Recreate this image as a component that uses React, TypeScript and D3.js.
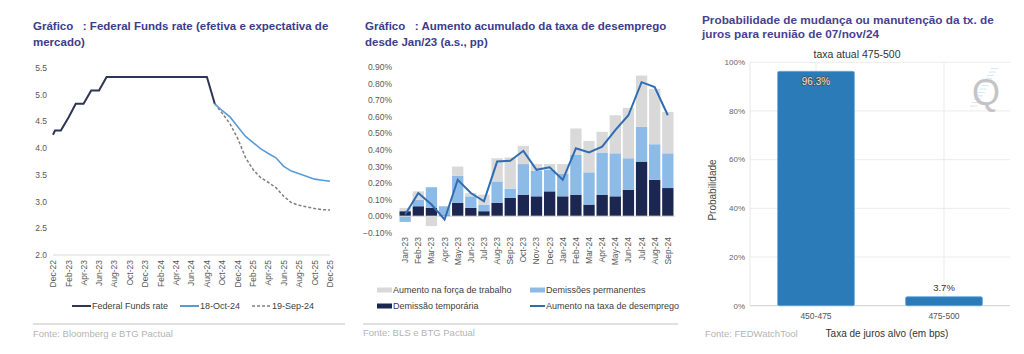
import React, { useEffect, useRef } from 'react';
import * as d3 from 'd3';

// --- Gráfico 1: Federal Funds rate ---
const ffDates = ['2022-12-01', '2022-12-09', '2023-01-01', '2023-02-01', '2023-03-01', '2023-04-01', '2023-05-01', '2023-06-01',
  '2023-07-01', '2023-08-01', '2023-09-01', '2023-10-01', '2023-11-01', '2023-12-01', '2024-01-01', '2024-02-01',
  '2024-03-01', '2024-04-01', '2024-05-01', '2024-06-01', '2024-07-01', '2024-08-01', '2024-09-01'];
const ffRate = [4.25, 4.33, 4.33, 4.58, 4.83, 4.83, 5.08, 5.08,
  5.33, 5.33, 5.33, 5.33, 5.33, 5.33, 5.33, 5.33, 5.33, 5.33, 5.33, 5.33, 5.33, 5.33, 4.83];
const projDates = ['2024-09-01', '2024-10-01', '2024-11-01', '2024-12-01', '2025-01-01', '2025-02-01', '2025-03-01', '2025-04-01',
  '2025-05-01', '2025-06-01', '2025-07-01', '2025-08-01', '2025-09-01', '2025-10-01', '2025-11-01', '2025-12-01'];
const oct18 = [4.83, 4.70, 4.58, 4.40, 4.22, 4.10, 3.99, 3.90, 3.82, 3.66, 3.57, 3.52, 3.47, 3.42, 3.40, 3.38];
const sep19 = [4.83, 4.65, 4.45, 4.18, 3.82, 3.59, 3.45, 3.36, 3.26, 3.10, 2.98, 2.93, 2.90, 2.87, 2.85, 2.84];
const ffTickLabels = ['Dec-22', 'Feb-23', 'Apr-23', 'Jun-23', 'Aug-23', 'Oct-23', 'Dec-23', 'Feb-24', 'Apr-24', 'Jun-24',
  'Aug-24', 'Oct-24', 'Dec-24', 'Feb-25', 'Apr-25', 'Jun-25', 'Aug-25', 'Oct-25', 'Dec-25'];
const ffYTicks = [2.0, 2.5, 3.0, 3.5, 4.0, 4.5, 5.0, 5.5];

// --- Gráfico 2: desemprego ---
const months = ['Jan-23', 'Feb-23', 'Mar-23', 'Apr-23', 'May-23', 'Jun-23', 'Jul-23', 'Aug-23', 'Sep-23', 'Oct-23', 'Nov-23',
  'Dec-23', 'Jan-24', 'Feb-24', 'Mar-24', 'Apr-24', 'May-24', 'Jun-24', 'Jul-24', 'Aug-24', 'Sep-24'];
const temporaria = [0.03, 0.06, 0.05, 0.005, 0.08, 0.05, 0.03, 0.08, 0.11, 0.13, 0.12, 0.15, 0.12, 0.13, 0.07, 0.13, 0.12, 0.16, 0.33, 0.22, 0.17];
const permanentes = [-0.035, 0.04, 0.125, 0.055, 0.165, 0.07, 0.04, 0.13, 0.055, 0.185, 0.155, 0.13, 0.135, 0.24, 0.195, 0.255, 0.26, 0.19, 0.21, 0.215, 0.21];
const forcaTrabalho = [0.02, 0.05, -0.06, 0, 0.055, 0.02, 0.06, 0.14, 0.19, 0.11, 0.04, 0.035, 0.06, 0.16, 0.19, 0.125, 0.23, 0.305, 0.31, 0.335, 0.25];
const taxaDesemprego = [0.01, 0.14, 0.07, -0.02, 0.22, 0.14, 0.09, 0.33, 0.335, 0.395, 0.28, 0.295, 0.22, 0.41, 0.385, 0.42, 0.52, 0.61, 0.81, 0.78, 0.61];
const unempYTicks = [-0.1, 0, 0.1, 0.2, 0.3, 0.4, 0.5, 0.6, 0.7, 0.8, 0.9];

// --- Gráfico 3: FedWatch ---
const targetRanges = ['450-475', '475-500'];
const probabilities = [96.3, 3.7];
const probYTicks = [0, 20, 40, 60, 80, 100];

const FONT = "'Liberation Sans', Arial, sans-serif";
const TITLE = '#3c3d8a';

const App = () => {
  const svgRef = useRef<SVGSVGElement>(null);

  useEffect(() => {
    const svg = d3.select(svgRef.current);
    svg.selectAll('*').remove();
    svg.append('rect').attr('width', 1024).attr('height', 354).attr('fill', '#fff');

    const title = (x: number, y: number, lines: string[], size: number, color: string) => {
      lines.forEach((t, i) => {
        svg.append('text').attr('x', x).attr('y', y + i * 16).attr('font-family', FONT)
          .attr('font-size', size).attr('font-weight', 'bold').attr('fill', color)
          .style('white-space', 'pre').text(t);
      });
    };
    const fonte = (x: number, y: number, t: string) => {
      svg.append('text').attr('x', x).attr('y', y).attr('font-family', FONT).attr('font-size', 9.5)
        .attr('fill', '#b4b4b4').text(t);
    };

    // ================= Chart 1 =================
    const parseIso = d3.timeParse('%Y-%m-%d');
    const parseTick = d3.timeParse('%b-%y');
    const x1 = d3.scaleTime().domain([parseIso('2022-12-01')!, parseIso('2025-12-01')!]).range([53, 330]);
    const y1 = d3.scaleLinear().domain([2, 5.5]).range([255, 68]);

    title(33, 30, ['Gráfico   : Federal Funds rate (efetiva e expectativa de', 'mercado)'], 11.5, TITLE);

    const g1 = svg.append('g').attr('font-family', FONT);
    g1.selectAll('.ytick').data(ffYTicks).enter().append('text')
      .attr('x', 47).attr('y', (d) => y1(d)).attr('dy', '0.35em').attr('text-anchor', 'end')
      .attr('font-size', 8.5).attr('fill', '#595959').text((d) => d3.format('.1f')(d));
    g1.append('line').attr('x1', 53).attr('x2', 330).attr('y1', 255).attr('y2', 255)
      .attr('stroke', '#d9d9d9').attr('stroke-width', 1);
    g1.selectAll('.xtick').data(ffTickLabels).enter().append('text')
      .attr('transform', (d) => `translate(${x1(parseTick(d)!)},260) rotate(-90)`)
      .attr('dy', '0.35em').attr('text-anchor', 'end').attr('font-size', 8.5).attr('fill', '#595959').text((d) => d);

    const line1 = d3.line<[Date, number]>().x((d) => x1(d[0])).y((d) => y1(d[1]));
    const ffData: [Date, number][] = ffDates.map((d, i) => [parseIso(d)!, ffRate[i]]);
    const octData: [Date, number][] = projDates.map((d, i) => [parseIso(d)!, oct18[i]]);
    const sepData: [Date, number][] = projDates.map((d, i) => [parseIso(d)!, sep19[i]]);
    g1.append('path').datum(sepData).attr('d', line1).attr('fill', 'none')
      .attr('stroke', '#7f7f7f').attr('stroke-width', 1.5).attr('stroke-dasharray', '3,2');
    g1.append('path').datum(octData).attr('d', line1).attr('fill', 'none')
      .attr('stroke', '#5b9bd5').attr('stroke-width', 1.6);
    g1.append('path').datum(ffData).attr('d', line1).attr('fill', 'none')
      .attr('stroke', '#2f3556').attr('stroke-width', 2);

    const leg1 = [
      { x: 72, label: 'Federal Funds rate', color: '#2f3556', dash: null, w: 2 },
      { x: 180, label: '18-Oct-24', color: '#5b9bd5', dash: null, w: 2 },
      { x: 252, label: '19-Sep-24', color: '#7f7f7f', dash: '3,2', w: 1.5 },
    ];
    leg1.forEach((l) => {
      g1.append('line').attr('x1', l.x).attr('x2', l.x + 19).attr('y1', 306).attr('y2', 306)
        .attr('stroke', l.color).attr('stroke-width', l.w).attr('stroke-dasharray', l.dash);
      g1.append('text').attr('x', l.x + 20).attr('y', 306).attr('dy', '0.35em')
        .attr('font-size', 9).attr('fill', '#404040').text(l.label);
    });
    g1.append('line').attr('x1', 33).attr('x2', 345).attr('y1', 324).attr('y2', 324)
      .attr('stroke', '#d6d6d6').attr('stroke-width', 1.5);
    fonte(33, 337, 'Fonte: Bloomberg e BTG Pactual');

    // ================= Chart 2 =================
    title(365, 30, ['Gráfico   : Aumento acumulado da taxa de desemprego', 'desde Jan/23 (a.s., pp)'], 11.5, TITLE);
    const x2 = d3.scaleBand().domain(months).range([399, 674]).paddingInner(0.14).paddingOuter(0.04);
    const y2 = d3.scaleLinear().domain([-0.1, 0.9]).range([232.7, 67.3]);
    const g2 = svg.append('g').attr('font-family', FONT);

    g2.selectAll('.ytick').data(unempYTicks).enter().append('text')
      .attr('x', 392).attr('y', (d) => y2(d)).attr('dy', '0.35em').attr('text-anchor', 'end')
      .attr('font-size', 8.5).attr('fill', '#595959').text((d) => d3.format('.2%')(d / 100));

    const rows = months.map((m, i) => ({ month: m, temp: temporaria[i], perm: permanentes[i], forca: forcaTrabalho[i] }));
    const keys = ['temp', 'perm', 'forca'];
    const colors: Record<string, string> = { temp: '#1b2651', perm: '#8dbbe8', forca: '#d9d9d9' };
    const series = d3.stack<any>().keys(keys).offset(d3.stackOffsetDiverging)(rows);
    g2.selectAll('.layer').data(series).enter().append('g').attr('fill', (s) => colors[s.key])
      .selectAll('rect').data((s) => s).enter().append('rect')
      .attr('x', (d) => x2(d.data.month)!).attr('width', x2.bandwidth())
      .attr('y', (d) => y2(Math.max(d[0], d[1]))).attr('height', (d) => Math.abs(y2(d[0]) - y2(d[1])));

    g2.append('line').attr('x1', 399).attr('x2', 675).attr('y1', y2(0)).attr('y2', y2(0))
      .attr('stroke', '#d9d9d9').attr('stroke-width', 1);

    const line2 = d3.line<number>().x((_, i) => x2(months[i])! + x2.bandwidth() / 2).y((d) => y2(d));
    g2.append('path').datum(taxaDesemprego).attr('d', line2).attr('fill', 'none')
      .attr('stroke', '#2f6db3').attr('stroke-width', 2);

    g2.selectAll('.xtick').data(months).enter().append('text')
      .attr('transform', (d) => `translate(${x2(d)! + x2.bandwidth() / 2},237) rotate(-90)`)
      .attr('dy', '0.35em').attr('text-anchor', 'end').attr('font-size', 8.5).attr('fill', '#595959').text((d) => d);

    const leg2 = [
      { x: 377, y: 290, label: 'Aumento na força de trabalho', color: '#d9d9d9', type: 'box' },
      { x: 530, y: 290, label: 'Demissões permanentes', color: '#8dbbe8', type: 'box' },
      { x: 377, y: 306, label: 'Demissão temporária', color: '#1b2651', type: 'box' },
      { x: 530, y: 306, label: 'Aumento na taxa de desemprego', color: '#2f6db3', type: 'line' },
    ];
    leg2.forEach((l) => {
      if (l.type === 'box') {
        g2.append('rect').attr('x', l.x).attr('y', l.y - 2.5).attr('width', 15).attr('height', 5).attr('fill', l.color);
      } else {
        g2.append('line').attr('x1', l.x).attr('x2', l.x + 15).attr('y1', l.y).attr('y2', l.y)
          .attr('stroke', l.color).attr('stroke-width', 2);
      }
      g2.append('text').attr('x', l.x + 16).attr('y', l.y).attr('dy', '0.35em')
        .attr('font-size', 9).attr('fill', '#404040').text(l.label);
    });
    g2.append('line').attr('x1', 363).attr('x2', 678).attr('y1', 324).attr('y2', 324)
      .attr('stroke', '#d6d6d6').attr('stroke-width', 1.5);
    fonte(363, 336, 'Fonte: BLS e BTG Pactual');

    // ================= Chart 3 =================
    const g3 = svg.append('g').attr('font-family', FONT);
    g3.append('text').attr('x', 702).attr('y', 24).attr('font-size', 11.8).attr('font-weight', 'bold')
      .attr('fill', '#4a3f91').text('Probabilidade de mudança ou manutenção da tx. de');
    g3.append('text').attr('x', 702).attr('y', 38).attr('font-size', 11.8).attr('font-weight', 'bold')
      .attr('fill', '#4a3f91').text('juros para reunião de 07/nov/24');
    g3.append('text').attr('x', 857).attr('y', 54).attr('dy', '0.35em').attr('text-anchor', 'middle')
      .attr('font-size', 10.5).attr('fill', '#333').text('taxa atual 475-500');

    const x3 = d3.scaleBand().domain(targetRanges).range([752, 1008]).paddingInner(0.4).paddingOuter(0.2);
    const y3 = d3.scaleLinear().domain([0, 100]).range([305.7, 62.3]);

    g3.selectAll('.grid').data(probYTicks).enter().append('line')
      .attr('x1', 750).attr('x2', 1010).attr('y1', (d) => y3(d)).attr('y2', (d) => y3(d))
      .attr('stroke', (d) => (d === 0 ? '#cfcfcf' : '#ebebeb')).attr('stroke-width', 1);
    g3.append('line').attr('x1', 750).attr('x2', 750).attr('y1', y3(100)).attr('y2', y3(0))
      .attr('stroke', '#e6e6e6');
    g3.selectAll('.vgrid').data(targetRanges).enter().append('line')
      .attr('x1', (d) => x3(d)! + x3.bandwidth() / 2).attr('x2', (d) => x3(d)! + x3.bandwidth() / 2)
      .attr('y1', y3(100)).attr('y2', y3(0)).attr('stroke', '#ebebeb');
    g3.selectAll('.ytick').data(probYTicks).enter().append('text')
      .attr('x', 745).attr('y', (d) => y3(d)).attr('dy', '0.35em').attr('text-anchor', 'end')
      .attr('font-size', 8).attr('fill', '#666').text((d) => `${d}%`);

    // watermark
    const wm = g3.append('g');
    d3.range(12).forEach((i) => {
      const yy = 106 - i * 3.4;
      const xx = 970 + i * 1.9;
      wm.append('line').attr('x1', xx).attr('x2', xx + 7).attr('y1', yy).attr('y2', yy)
        .attr('stroke', '#cfe2f3').attr('stroke-width', 0.9);
    });
    wm.append('text').attr('x', 986).attr('y', 105).attr('text-anchor', 'middle').attr('font-size', 36)
      .attr('fill', '#c4c4c4').text('Q');

    g3.selectAll('.bar').data(targetRanges).enter().append('rect')
      .attr('x', (d) => x3(d)!).attr('width', x3.bandwidth())
      .attr('y', (_, i) => y3(probabilities[i])).attr('height', (_, i) => y3(0) - y3(probabilities[i]))
      .attr('rx', 1.5)
      .attr('fill', '#2b7bb9').attr('stroke', '#6aa8da').attr('stroke-width', 0.8);

    g3.append('text').attr('x', x3(targetRanges[0])! + x3.bandwidth() / 2).attr('y', 81).attr('dy', '0.35em')
      .attr('text-anchor', 'middle').attr('font-size', 10).attr('fill', '#e6e6e6')
      .attr('stroke', '#4d4d4d').attr('stroke-width', 1.4).style('paint-order', 'stroke')
      .text(`${probabilities[0]}%`);
    g3.append('text').attr('x', x3(targetRanges[1])! + x3.bandwidth() / 2).attr('y', 288).attr('dy', '0.35em')
      .attr('text-anchor', 'middle').attr('font-size', 9.5).attr('fill', '#333').text(`${probabilities[1]}%`);

    g3.selectAll('.xtick').data(targetRanges).enter().append('text')
      .attr('x', (d) => x3(d)! + x3.bandwidth() / 2).attr('y', 316).attr('dy', '0.35em')
      .attr('text-anchor', 'middle').attr('font-size', 8.5).attr('fill', '#555').text((d) => d);

    g3.append('text').attr('transform', 'translate(712,190) rotate(-90)').attr('dy', '0.35em')
      .attr('text-anchor', 'middle').attr('font-size', 10).attr('fill', '#444').text('Probabilidade');
    g3.append('text').attr('x', 887).attr('y', 333).attr('dy', '0.35em').attr('text-anchor', 'middle')
      .attr('font-size', 10).attr('fill', '#333').text('Taxa de juros alvo (em bps)');
    g3.append('text').attr('x', 705).attr('y', 334).attr('dy', '0.35em')
      .attr('font-size', 9.5).attr('fill', '#b4b4b4').text('Fonte: FEDWatchTool');
  }, []);

  return (
    <svg ref={svgRef} width={1024} height={354} style={{ position: 'absolute', left: 0, top: 0 }}></svg>
  );
};

export default App;
